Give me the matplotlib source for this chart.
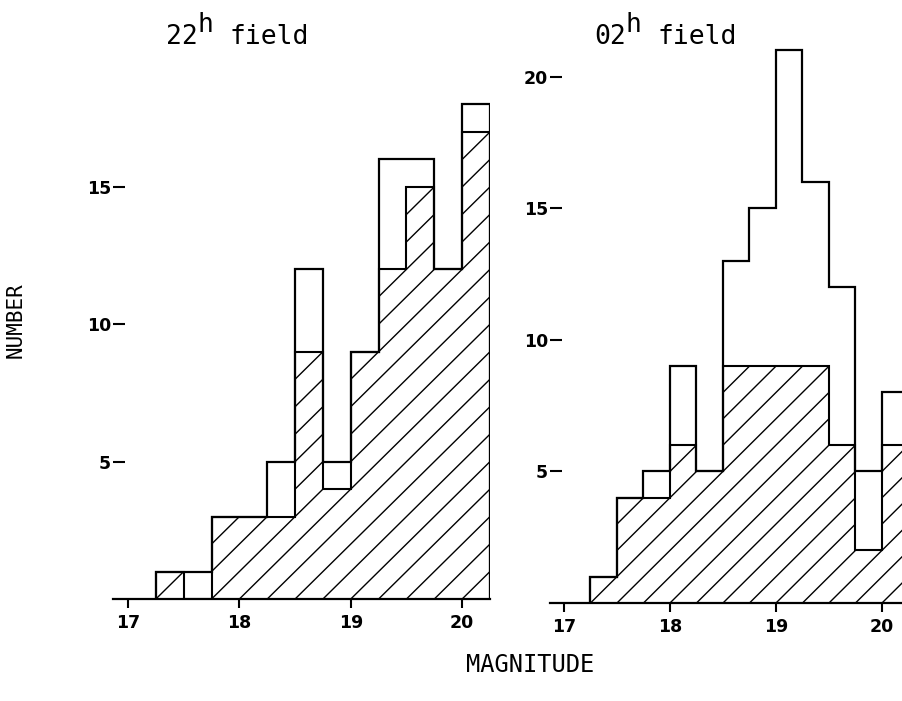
import matplotlib
matplotlib.use("Agg")
import matplotlib.pyplot as plt
from matplotlib.lines import Line2D
from matplotlib.transforms import offset_copy
import numpy as np

# bin edges (magnitude, 0.25 mag bins)
edges = [17.25, 17.5, 17.75, 18.0, 18.25, 18.5, 18.75, 19.0, 19.25, 19.5, 19.75, 20.0, 20.25]

# 22h field: all objects and hatched subset
total_22 = [1, 1, 3, 3, 5, 12, 5, 9, 16, 16, 12, 18]
hatch_22 = [1, 0, 3, 3, 3, 9, 4, 9, 12, 15, 12, 17]

# 02h field
total_02 = [1, 4, 5, 9, 5, 13, 15, 21, 16, 12, 5, 8]
hatch_02 = [1, 4, 4, 6, 5, 9, 9, 9, 9, 6, 2, 6]

x_ticks = [17, 18, 19, 20]
y_ticks_22 = [5, 10, 15]
y_ticks_02 = [5, 10, 15, 20]

W, H = 903, 701
fig = plt.figure(figsize=(W / 100, H / 100), dpi=100)
fig.patch.set_facecolor("white")

num_font = dict(family="DejaVu Sans", weight="bold", size=12.5)


def px_axes(x0, x1, y0, y1):
    # pixel box (top-left origin) -> figure fraction axes
    return fig.add_axes([x0 / W, 1 - y1 / H, (x1 - x0) / W, (y1 - y0) / H])


def panel(ax, total, hatched, yticks, xlim, ylim, spine_frac, slope):
    ax.set_xlim(*xlim)
    ax.set_ylim(*ylim)
    for s in ["top", "right"]:
        ax.spines[s].set_visible(False)
    ax.spines["left"].set_position(("axes", spine_frac))
    ax.spines["left"].set_visible(False)
    ax.spines["bottom"].set_linewidth(1.6)

    ax.set_xticks(x_ticks)
    ax.set_yticks(yticks)
    ax.tick_params(axis="x", direction="out", length=6.5, width=1.5, pad=4)
    ax.tick_params(axis="y", direction="out", length=9, width=1.5, pad=1)
    for lab in ax.get_xticklabels() + ax.get_yticklabels():
        lab.set_fontproperties(matplotlib.font_manager.FontProperties(**num_font))

    # hatched region + diagonal lines clipped to it
    hp = ax.stairs(hatched, edges, baseline=0, fill=True, facecolor="none",
                   edgecolor="none", linewidth=0)
    for x0 in np.arange(edges[0] - 6.0, edges[-1] + 0.01, 0.25):
        ln = Line2D([x0, x0 + 6.0], [0, 6.0 * slope], color="black", lw=1.0)
        ax.add_line(ln)
        ln.set_clip_path(hp)
    ax.stairs(hatched, edges, baseline=0, fill=False, color="black", lw=1.5)
    ax.stairs(total, edges, baseline=0, fill=False, color="black", lw=1.6)


# left panel (22h field)
ax1 = px_axes(113, 490, 77, 599)
panel(ax1, total_22, hatch_22, y_ticks_22, (16.865, 20.25), (0, 19.0),
      0.032, 4.0)

# right panel (02h field) - runs off the right edge of the figure
ax2 = px_axes(550, 935, 24, 603)
panel(ax2, total_02, hatch_02, y_ticks_02, (16.868, 20.5), (0, 22.0),
      0.031, 4.0)

# titles: monospace, with a raised full-size "h"
mono = dict(family="DejaVu Sans Mono", size=19)
pitch = 0.602 * 19  # points per character


def title(x_px, y_px, digits):
    x, y = x_px / W, 1 - y_px / H
    fig.text(x, y, digits, va="baseline", **mono)
    tr_h = offset_copy(fig.transFigure, fig=fig, x=2 * pitch, y=9, units="points")
    fig.text(x, y, "h", va="baseline", transform=tr_h, **mono)
    tr_f = offset_copy(fig.transFigure, fig=fig, x=4 * pitch, y=0, units="points")
    fig.text(x, y, "field", va="baseline", transform=tr_f, **mono)


title(166, 44, "22")
title(594, 44, "02")

fig.text(530 / W, 1 - 665 / H, "MAGNITUDE", ha="center", va="center",
         family="DejaVu Sans Mono", size=17)
fig.text(16 / W, 1 - 320 / H, "NUMBER", ha="center", va="center", rotation=90,
         family="DejaVu Sans Mono", size=15)

fig.savefig("out.png", dpi=100, facecolor="white")
